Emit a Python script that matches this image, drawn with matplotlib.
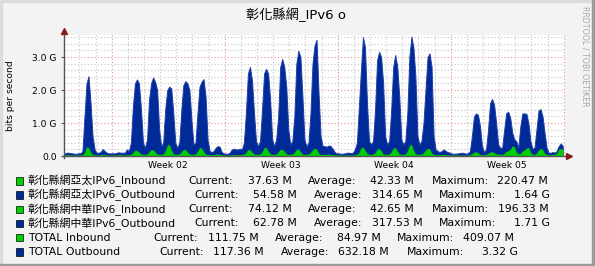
import numpy as np
import matplotlib
matplotlib.use("Agg")
import matplotlib.pyplot as plt
from matplotlib.patches import Rectangle
from matplotlib.lines import Line2D

plt.rcParams['font.family'] = ['DejaVu Sans', 'Noto Sans CJK TC']

# traffic in Gbit/s, one row per day, one value every 3 hours
outbound = [
    [0.07, 0.10, 0.10, 0.09, 0.08, 0.07, 0.07, 0.08],
    [0.08, 0.15, 1.20, 2.20, 2.42, 1.60, 0.60, 0.20],
    [0.10, 0.10, 0.12, 0.21, 0.15, 0.10, 0.08, 0.08],
    [0.08, 0.08, 0.10, 0.11, 0.10, 0.10, 0.10, 0.20],
    [0.15, 0.40, 1.50, 2.20, 2.32, 2.20, 1.40, 0.40],
    [0.25, 0.50, 1.70, 2.20, 2.38, 2.25, 2.00, 0.80],
    [0.30, 0.40, 1.40, 2.00, 2.10, 2.05, 1.30, 0.40],
    [0.25, 0.40, 1.40, 2.15, 2.27, 2.20, 2.00, 1.10],
    [0.35, 0.40, 1.30, 2.10, 2.25, 2.33, 1.80, 0.50],
    [0.15, 0.12, 0.15, 0.25, 0.30, 0.28, 0.12, 0.08],
    [0.07, 0.07, 0.10, 0.20, 0.22, 0.20, 0.20, 0.22],
    [0.20, 0.40, 1.30, 2.50, 2.70, 2.30, 1.30, 0.45],
    [0.30, 0.45, 1.40, 2.50, 2.64, 2.50, 1.70, 0.50],
    [0.30, 0.50, 1.20, 2.70, 2.94, 2.70, 2.10, 0.80],
    [0.35, 0.45, 1.20, 2.80, 3.19, 3.00, 1.80, 0.50],
    [0.30, 0.40, 1.30, 2.80, 3.35, 3.52, 1.90, 0.60],
    [0.30, 0.30, 0.28, 0.32, 0.30, 0.22, 0.12, 0.08],
    [0.08, 0.07, 0.07, 0.08, 0.10, 0.10, 0.09, 0.10],
    [0.20, 0.40, 1.50, 2.60, 3.60, 3.30, 1.60, 0.45],
    [0.35, 0.45, 1.40, 2.90, 3.16, 3.00, 2.20, 0.60],
    [0.35, 0.45, 1.40, 2.70, 3.06, 2.70, 1.80, 0.50],
    [0.35, 0.45, 1.30, 3.00, 3.62, 3.30, 2.40, 0.60],
    [0.35, 0.45, 1.00, 2.00, 3.00, 3.11, 2.70, 0.60],
    [0.20, 0.15, 0.12, 0.15, 0.20, 0.15, 0.12, 0.10],
    [0.07, 0.07, 0.07, 0.08, 0.09, 0.10, 0.09, 0.07],
    [0.08, 0.15, 0.60, 1.20, 1.29, 1.25, 0.90, 0.30],
    [0.12, 0.20, 0.80, 1.60, 1.73, 1.55, 1.00, 0.35],
    [0.25, 0.25, 0.80, 1.30, 1.34, 1.15, 0.70, 0.50],
    [0.45, 0.25, 0.90, 1.29, 1.29, 1.28, 1.00, 0.45],
    [0.22, 0.25, 0.80, 1.38, 1.42, 1.20, 0.70, 0.25],
    [0.10, 0.10, 0.12, 0.10, 0.15, 0.30, 0.38, 0.30],
]
inbound = [
    [0.03, 0.04, 0.04, 0.03, 0.03, 0.03, 0.03, 0.03],
    [0.03, 0.04, 0.10, 0.28, 0.25, 0.12, 0.05, 0.04],
    [0.03, 0.03, 0.04, 0.05, 0.04, 0.03, 0.03, 0.03],
    [0.03, 0.03, 0.03, 0.04, 0.04, 0.03, 0.03, 0.04],
    [0.04, 0.05, 0.10, 0.18, 0.17, 0.12, 0.06, 0.05],
    [0.05, 0.06, 0.12, 0.20, 0.19, 0.12, 0.06, 0.05],
    [0.05, 0.06, 0.15, 0.33, 0.35, 0.18, 0.07, 0.05],
    [0.05, 0.06, 0.12, 0.20, 0.20, 0.12, 0.06, 0.05],
    [0.05, 0.06, 0.14, 0.26, 0.24, 0.14, 0.06, 0.05],
    [0.04, 0.04, 0.04, 0.06, 0.06, 0.05, 0.04, 0.03],
    [0.03, 0.03, 0.03, 0.04, 0.04, 0.04, 0.04, 0.04],
    [0.05, 0.06, 0.10, 0.20, 0.19, 0.12, 0.06, 0.05],
    [0.05, 0.06, 0.12, 0.25, 0.26, 0.15, 0.07, 0.05],
    [0.05, 0.06, 0.12, 0.20, 0.20, 0.14, 0.07, 0.05],
    [0.05, 0.06, 0.10, 0.20, 0.21, 0.13, 0.06, 0.05],
    [0.05, 0.06, 0.10, 0.18, 0.23, 0.22, 0.08, 0.05],
    [0.05, 0.05, 0.05, 0.06, 0.05, 0.04, 0.04, 0.03],
    [0.03, 0.03, 0.03, 0.03, 0.03, 0.03, 0.03, 0.03],
    [0.04, 0.05, 0.10, 0.24, 0.28, 0.18, 0.07, 0.05],
    [0.05, 0.06, 0.10, 0.20, 0.23, 0.16, 0.06, 0.05],
    [0.05, 0.06, 0.12, 0.24, 0.26, 0.15, 0.06, 0.05],
    [0.05, 0.06, 0.14, 0.32, 0.36, 0.18, 0.07, 0.05],
    [0.05, 0.06, 0.10, 0.18, 0.23, 0.22, 0.10, 0.05],
    [0.04, 0.04, 0.04, 0.05, 0.05, 0.04, 0.04, 0.03],
    [0.03, 0.03, 0.03, 0.03, 0.03, 0.03, 0.03, 0.03],
    [0.03, 0.04, 0.07, 0.12, 0.13, 0.10, 0.05, 0.04],
    [0.04, 0.05, 0.08, 0.12, 0.13, 0.10, 0.06, 0.06],
    [0.05, 0.05, 0.08, 0.14, 0.16, 0.20, 0.31, 0.28],
    [0.12, 0.06, 0.08, 0.15, 0.18, 0.24, 0.26, 0.12],
    [0.05, 0.05, 0.08, 0.18, 0.23, 0.20, 0.08, 0.05],
    [0.03, 0.04, 0.05, 0.05, 0.08, 0.20, 0.23, 0.20],
]

title = "彰化縣網_IPv6 o"
week_labels = ["Week 02", "Week 03", "Week 04", "Week 05"]
ytick_values = [0, 1, 2, 3]
ytick_labels = ["0.0", "1.0 G", "2.0 G", "3.0 G"]

legend_names = ["彰化縣網亞太IPv6_Inbound", "彰化縣網亞太IPv6_Outbound",
                "彰化縣網中華IPv6_Inbound", "彰化縣網中華IPv6_Outbound",
                "TOTAL Inbound", "TOTAL Outbound"]
legend_colors = ["#00CF00", "#002A97", "#00CF00", "#002A97", "#00CF00", "#002A97"]
current = ["37.63 M", "54.58 M", "74.12 M", "62.78 M", "111.75 M", "117.36 M"]
average = ["42.33 M", "314.65 M", "42.65 M", "317.53 M", "84.97 M", "632.18 M"]
maximum = ["220.47 M", "1.64 G", "196.33 M", "1.71 G", "409.07 M", "3.32 G"]

W, H = 595, 266
fig = plt.figure(figsize=(W / 100, H / 100), dpi=100, facecolor="#F3F3F3")


def fx(px):
    return px / W


def fy(py):
    return 1 - py / H


ax = fig.add_axes([fx(64.3), fy(156), fx(565) - fx(64.3), fy(35) - fy(156)])
ax.set_facecolor("white")

out = np.array(outbound).ravel()
inb = np.array(inbound).ravel()
start = -2.936  # days before monday of week 02
t = start + np.arange(len(out)) * 0.125
ax.fill_between(t, 0, out, facecolor="#002A97", edgecolor="#1D3FA8", lw=0.7, zorder=2)
ax.fill_between(t, 0, inb, color="#00CF00", lw=0, zorder=3)

ax.set_xlim(start, 28.08)
ax.set_ylim(0, 3.667)

ax.set_xticks(np.arange(0, 29, 7))
ax.set_xticks([d for d in range(-2, 29) if d % 7 != 0], minor=True)
ax.set_yticks(ytick_values)
ax.set_yticks([v / 5 for v in range(1, 19) if v % 5 != 0], minor=True)
ax.set_yticklabels(ytick_labels, fontsize=6.6)
ax.set_axisbelow(True)
ax.grid(which='minor', color='#C4C4C4', linestyle=(0, (1, 2)), lw=0.8)
ax.grid(which='major', color='#EE8E8E', linestyle=(0, (1, 2)), lw=0.8)
ax.tick_params(axis='x', which='both', length=0, labelbottom=False)
ax.tick_params(axis='y', which='major', length=2, color='#555555', pad=3.5)
ax.tick_params(axis='y', which='minor', length=0)
for s in ax.spines.values():
    s.set_visible(False)

for i, lab in enumerate(week_labels):
    ax.text(3.5 + 7 * i, -10 / 121, lab, transform=ax.get_xaxis_transform(),
            ha='center', va='center', fontsize=6.6)

# axis lines with arrows
fig.add_artist(Line2D([fx(62), fx(568)], [fy(156), fy(156)], color='#555555', lw=1))
fig.add_artist(Line2D([fx(64.3), fx(64.3)], [fy(158), fy(32)], color='#555555', lw=1))
fig.add_artist(Line2D([fx(569)], [fy(156)], marker='>', markersize=4.5,
                      color='#8B1A1A', lw=0))
fig.add_artist(Line2D([fx(64.3)], [fy(31)], marker='^', markersize=4.5,
                      color='#8B1A1A', lw=0))

fig.text(fx(296), fy(14.5), title, ha='center', va='center', fontsize=9.5)
fig.text(fx(11), fy(95.5), "bits per second", rotation=90, ha='center',
         va='center', fontsize=6.6)
fig.text(fx(585.5), fy(56.5), "RRDTOOL / TOBI OETIKER", rotation=270,
         ha='center', va='center', fontsize=5.7, color='#A8A8A8')

# legend block
row_y = [181, 195.2, 209.4, 223.5, 237.7, 252]
cur_x = [188, 194, 188, 194, 153, 159]
cur_r = [292.3, 297.3, 292.3, 297.3, 258.3, 264]
avg_x = [308.3, 314, 308.3, 314, 275, 281]
avg_r = [414, 422.3, 414, 422.3, 380.7, 389]
max_x = [431.7, 439.3, 431.7, 439.3, 397.3, 406.7]
max_r = [548.3, 550, 548.3, 550, 514, 518.3]
fs = 7.8
for i in range(len(legend_names)):
    y = row_y[i]
    fig.add_artist(Rectangle((fx(16), fy(y + 3.7)), 7.4 / W, 7.4 / H,
                             facecolor=legend_colors[i], edgecolor='black', lw=0.5,
                             transform=fig.transFigure))
    fig.text(fx(28), fy(y), legend_names[i], ha='left', va='center', fontsize=fs)
    fig.text(fx(cur_x[i]), fy(y), "Current:", ha='left', va='center', fontsize=fs)
    fig.text(fx(cur_r[i]), fy(y), current[i], ha='right', va='center', fontsize=fs)
    fig.text(fx(avg_x[i]), fy(y), "Average:", ha='left', va='center', fontsize=fs)
    fig.text(fx(avg_r[i]), fy(y), average[i], ha='right', va='center', fontsize=fs)
    fig.text(fx(max_x[i]), fy(y), "Maximum:", ha='left', va='center', fontsize=fs)
    fig.text(fx(max_r[i]), fy(y), maximum[i], ha='right', va='center', fontsize=fs)

# 3d frame
fig.add_artist(Rectangle((0, fy(2)), 1, 2 / H, color='#DCDCDC', transform=fig.transFigure))
fig.add_artist(Rectangle((0, 0), 2 / W, 1, color='#DCDCDC', transform=fig.transFigure))
fig.add_artist(Rectangle((0, 0), 1, 2 / H, color='#9A9A9A', transform=fig.transFigure))
fig.add_artist(Rectangle((fx(592), 0), 3 / W, 1, color='#9A9A9A', transform=fig.transFigure))

fig.savefig("out.png", dpi=100, facecolor=fig.get_facecolor())
